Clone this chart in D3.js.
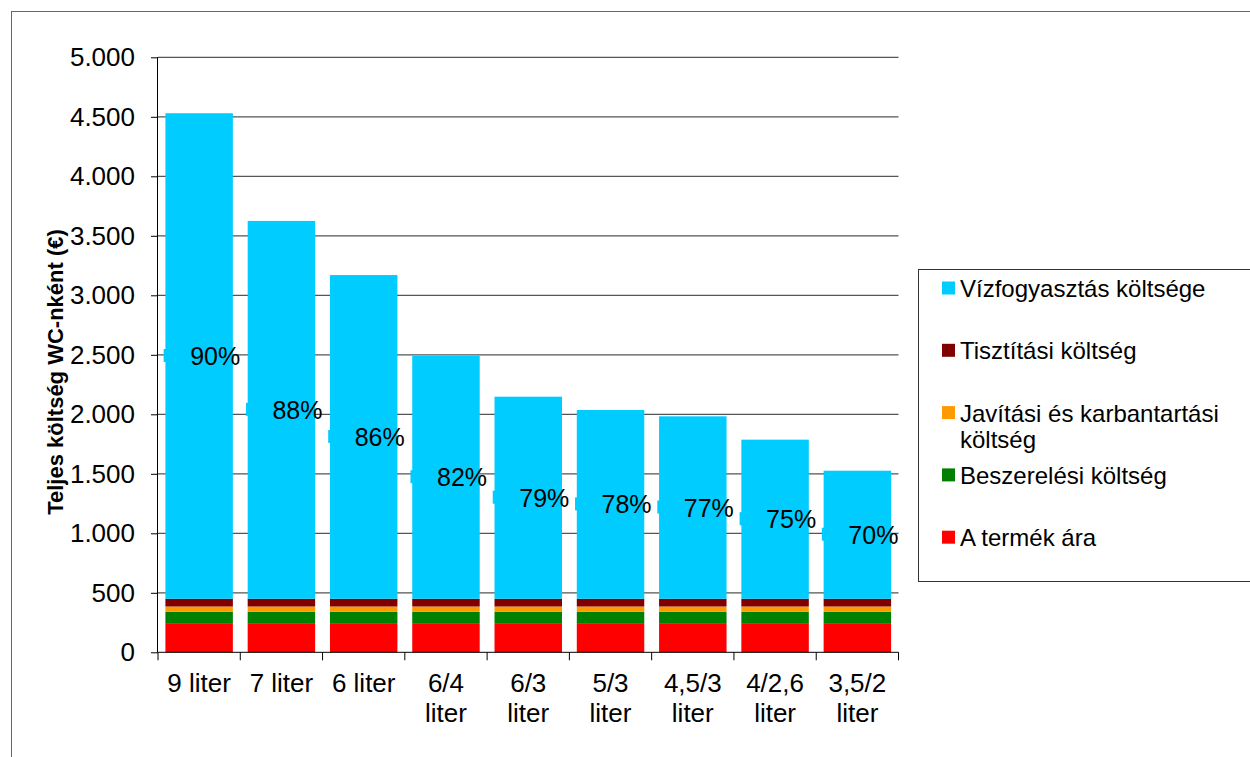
<!DOCTYPE html>
<html>
<head>
<meta charset="utf-8">
<script src="https://cdn.jsdelivr.net/npm/d3@7"></script>
<style>
  body { margin: 0; background: #fff; }
  text { font-family: "Liberation Sans", Arial, sans-serif; fill: #000; }
</style>
</head>
<body>
<div id="chart"></div>
<script>
// Données
const categories = ["9 liter", "7 liter", "6 liter", "6/4 liter", "6/3 liter", "5/3 liter", "4,5/3 liter", "4/2,6 liter", "3,5/2 liter"];
const productPrice = [245, 245, 245, 245, 245, 245, 245, 245, 245];
const installCost = [95, 95, 95, 95, 95, 95, 95, 95, 95];
const repairCost = [45, 45, 45, 45, 45, 45, 45, 45, 45];
const cleaningCost = [65, 65, 65, 65, 65, 65, 65, 65, 65];
const waterCost = [4080, 3175, 2720, 2042, 1698, 1586, 1533, 1337, 1076];
const waterShare = ["90%", "88%", "86%", "82%", "79%", "78%", "77%", "75%", "70%"];
const seriesKeys = ["price", "install", "repair", "cleaning", "water"];
const seriesNames = ["A termék ára", "Beszerelési költség", "Javítási és karbantartási költség", "Tisztítási költség", "Vízfogyasztás költsége"];
const seriesColors = ["#ff0000", "#008000", "#ff9900", "#800000", "#00ccff"];

const table = categories.map((c, i) => ({
    cat: c,
    price: productPrice[i],
    install: installCost[i],
    repair: repairCost[i],
    cleaning: cleaningCost[i],
    water: waterCost[i]
}));

const svgWidth = 1250, svgHeight = 757;
const plot = { left: 158, right: 898.5, top: 57.3, bottom: 652.3 };

const svg = d3.select('#chart')
    .append('svg')
    .attr('width', svgWidth)
    .attr('height', svgHeight);

// cadre extérieur
svg.append('rect')
    .attr('x', 11.5).attr('y', 11.5)
    .attr('width', 1260).attr('height', 770)
    .attr('fill', 'none')
    .attr('stroke', '#666');

const x = d3.scaleBand()
    .domain(categories)
    .range([plot.left, plot.right])
    .paddingInner(0.18)
    .paddingOuter(0.09);

const y = d3.scaleLinear()
    .domain([0, 5000])
    .range([plot.bottom, plot.top]);

const locale = d3.formatLocale({ decimal: ",", thousands: ".", grouping: [3], currency: ["", "€"] });
const fmt = locale.format(",d");

// grille
svg.append('g')
    .selectAll('line')
    .data(y.ticks(10).filter(d => d > 0))
    .join('line')
    .attr('x1', plot.left).attr('x2', plot.right)
    .attr('y1', d => y(d)).attr('y2', d => y(d))
    .attr('stroke', '#555')
    .attr('stroke-width', 1.2);

// barres empilées
const stacked = d3.stack().keys(seriesKeys)(table);

svg.append('g')
    .selectAll('g')
    .data(stacked)
    .join('g')
    .attr('fill', (d, i) => seriesColors[i])
    .selectAll('rect')
    .data(d => d)
    .join('rect')
    .attr('x', d => x(d.data.cat))
    .attr('y', d => y(d[1]))
    .attr('width', x.bandwidth())
    .attr('height', d => y(d[0]) - y(d[1]));

// axe Y
const yAxis = svg.append('g')
    .attr('transform', `translate(${plot.left},0)`)
    .call(d3.axisLeft(y).ticks(10).tickSize(7).tickPadding(16).tickFormat(fmt));
yAxis.select('.domain').attr('stroke', '#000').attr('d', `M-0.5,${plot.top}V${plot.bottom}`);
yAxis.selectAll('.tick line').attr('stroke', '#000');
yAxis.selectAll('.tick text')
    .style('font-family', '"Liberation Sans", Arial, sans-serif')
    .style('font-size', '26px')
    .attr('fill', '#000');

// axe X
const step = x.step();
const boundaries = d3.range(categories.length + 1).map(i => plot.left + i * step);
svg.append('line')
    .attr('x1', plot.left).attr('x2', plot.right)
    .attr('y1', plot.bottom).attr('y2', plot.bottom)
    .attr('stroke', '#000');
svg.append('g')
    .selectAll('line')
    .data(boundaries)
    .join('line')
    .attr('x1', d => d).attr('x2', d => d)
    .attr('y1', plot.bottom).attr('y2', plot.bottom + 8)
    .attr('stroke', '#000');

// étiquettes X (retour à la ligne si trop large)
const xLabels = svg.append('g')
    .selectAll('text')
    .data(categories)
    .join('text')
    .attr('x', d => x(d) + x.bandwidth() / 2)
    .attr('y', 691.5)
    .attr('text-anchor', 'middle')
    .style('font-size', '26px')
    .text(d => d);

xLabels.each(function (d) {
    const t = d3.select(this);
    if (this.getComputedTextLength() > step - 4) {
        const words = d.split(' ');
        const last = words.pop();
        t.text(null);
        t.append('tspan').attr('x', t.attr('x')).text(words.join(' '));
        t.append('tspan').attr('x', t.attr('x')).attr('dy', 30).text(last);
    }
});

// étiquettes de pourcentage (avec clé de légende)
const water = stacked[stacked.length - 1];
const pct = svg.append('g')
    .selectAll('g')
    .data(water)
    .join('g')
    .attr('transform', (d, i) => {
        const cx = x(categories[i]) + x.bandwidth() / 2;
        const cy = (y(d[0]) + y(d[1])) / 2;
        return `translate(${cx},${cy})`;
    });
pct.append('rect')
    .attr('x', -35.5).attr('y', -7)
    .attr('width', 12).attr('height', 13)
    .attr('fill', '#00ccff');
pct.append('text')
    .attr('x', -9)
    .attr('y', 9)
    .style('font-size', '25px')
    .text((d, i) => waterShare[i]);

// titre axe Y
svg.append('text')
    .attr('transform', 'rotate(-90)')
    .attr('x', -372)
    .attr('y', 63)
    .attr('text-anchor', 'middle')
    .style('font-size', '22px')
    .style('font-weight', 'bold')
    .text('Teljes költség WC-nként (€)');

// légende
svg.append('rect')
    .attr('x', 918.5).attr('y', 269.5)
    .attr('width', 340).attr('height', 312)
    .attr('fill', 'none')
    .attr('stroke', '#333');

const legendOrder = d3.range(seriesKeys.length).reverse();
const legend = svg.append('g')
    .selectAll('g')
    .data(legendOrder)
    .join('g')
    .attr('transform', (d, i) => `translate(942,${288 + i * 62.3})`);

legend.append('rect')
    .attr('x', 0).attr('y', -6.5)
    .attr('width', 13).attr('height', 13)
    .attr('fill', d => seriesColors[d]);

legend.append('text')
    .attr('x', 18)
    .attr('y', 9)
    .style('font-size', '24px')
    .each(function (d) {
        const t = d3.select(this);
        t.text(seriesNames[d]);
        if (this.getComputedTextLength() > 285) {
            const words = seriesNames[d].split(' ');
            const last = words.pop();
            t.text(null);
            t.append('tspan').attr('x', 18).text(words.join(' '));
            t.append('tspan').attr('x', 18).attr('dy', 26).text(last);
        }
    });
</script>
</body>
</html>
